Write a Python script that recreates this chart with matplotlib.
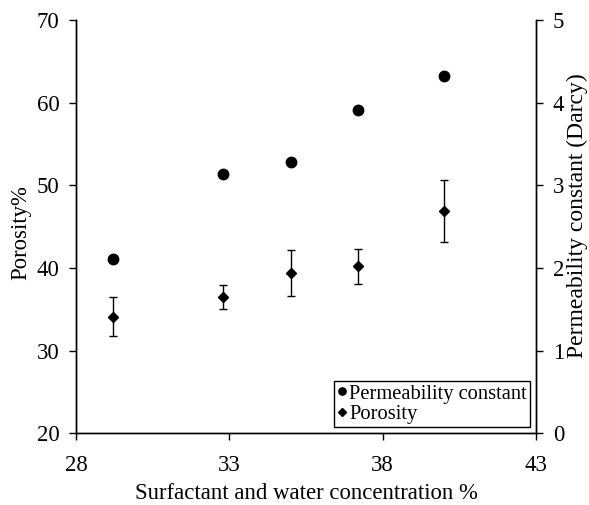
import numpy as np
import matplotlib
matplotlib.use("Agg")
import matplotlib.pyplot as plt

plt.rcParams['font.family'] = ['Liberation Serif', 'DejaVu Serif']

# data
conc = [29.2, 32.8, 35.0, 37.2, 40.0]
porosity = [34.1, 36.5, 39.4, 40.2, 46.9]
porosity_err = [2.35, 1.5, 2.8, 2.15, 3.8]
permeability = [2.11, 3.14, 3.28, 3.91, 4.33]

fs = 16.4

fig = plt.figure(figsize=(5.89, 5.05), dpi=100)
ax = fig.add_axes([0.129, 0.142, 0.781, 0.818])
ax2 = ax.twinx()

ax.errorbar(conc, porosity, yerr=porosity_err, fmt='none', ecolor='black',
            elinewidth=1, capsize=3, capthick=1)
h_por, = ax.plot(conc, porosity, 'D', color='black', ms=5.5)
h_perm, = ax2.plot(conc, permeability, 'o', color='black', ms=7.5)

ax.set_xlim(28, 43)
ax.set_xticks([28, 33, 38, 43])
ax.set_ylim(20, 70)
ax.set_yticks(range(20, 71, 10))
ax2.set_ylim(0, 5)
ax2.set_yticks(range(0, 6))

for a in (ax, ax2):
    a.tick_params(direction='out', length=5, width=1, labelsize=fs, pad=7)
    for s in a.spines.values():
        s.set_linewidth(1)
ax.tick_params(axis='x', pad=10.5)
ax.spines['top'].set_visible(False)
ax2.spines['top'].set_visible(False)

ax.set_xlabel('Surfactant and water concentration %', fontsize=fs, labelpad=5)
ax.set_ylabel('Porosity%', fontsize=fs)
ax2.set_ylabel('Permeability constant (Darcy)', fontsize=17)
ax.yaxis.set_label_coords(-0.098, 0.485)
ax2.yaxis.set_label_coords(1.066, 0.528)

leg = ax2.legend([h_perm, h_por], ['Permeability constant', 'Porosity'],
                 loc='lower right', fontsize=14.8, handlelength=0.5, handletextpad=0.1,
                 borderpad=0.15, labelspacing=0.05, fancybox=False, markerscale=0.7,
                 borderaxespad=0.3, framealpha=1)
leg.get_frame().set_edgecolor('black')
leg.get_frame().set_linewidth(1)

fig.savefig('out.png', dpi=100)
